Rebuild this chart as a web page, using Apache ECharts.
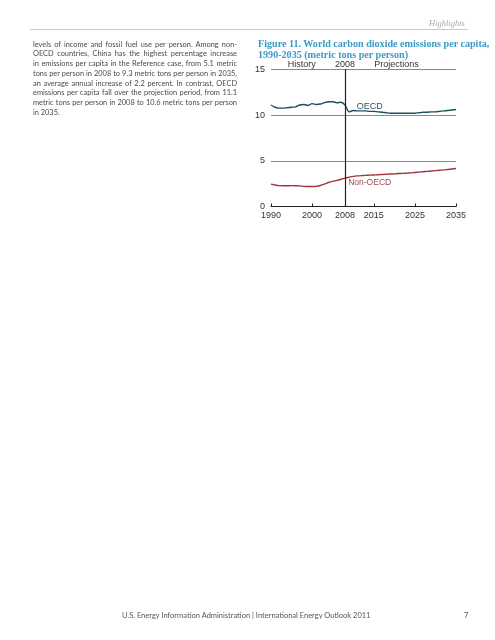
<!DOCTYPE html>
<html><head><meta charset="utf-8">
<script src="https://cdn.jsdelivr.net/npm/echarts@6/dist/echarts.min.js"></script>
<style>
html,body{margin:0;padding:0;background:#fff;}
#page{position:relative;width:495px;height:640px;overflow:hidden;}
#chart{position:absolute;left:0;top:0;width:495px;height:640px;}
.t{position:absolute;white-space:nowrap;}
#para{position:absolute;left:33px;top:39.5px;width:204px;font-family:Lato,"Open Sans",sans-serif;font-size:7.4px;line-height:9.8px;color:#4a4a4a;}
#para div{text-align:justify;text-align-last:justify;height:9.8px;overflow:visible;}
#para div.last{text-align-last:left;}
#title{position:absolute;left:258px;top:38px;font-family:"Liberation Serif",serif;font-weight:bold;font-size:10.1px;line-height:11px;color:#3b9ac6;white-space:nowrap;}
</style></head>
<body><div id="page">
<div id="chart"></div>
<div class="t" style="left:30px;top:29px;width:438px;height:0;border-top:1px solid #c8c8c8;"></div>
<div class="t" style="left:429px;top:18px;font-family:'Liberation Serif',serif;font-style:italic;font-size:8.5px;color:#aaa;">Highlights</div>
<div id="para">
<div>levels of income and fossil fuel use per person. Among non-</div>
<div>OECD countries, China has the highest percentage increase</div>
<div>in emissions per capita in the Reference case, from 5.1 metric</div>
<div>tons per person in 2008 to 9.3 metric tons per person in 2035,</div>
<div>an average annual increase of 2.2 percent. In contrast, OECD</div>
<div>emissions per capita fall over the projection period, from 11.1</div>
<div>metric tons per person in 2008 to 10.6 metric tons per person</div>
<div class="last">in 2035.</div>
</div>
<div id="title">Figure 11. World carbon dioxide emissions per capita,<br>1990-2035 (metric tons per person)</div>
<div class="t" style="left:122px;top:611px;font-family:Lato,'Open Sans',sans-serif;font-size:7.5px;color:#555;">U.S. Energy Information Administration | International Energy Outlook 2011</div>
<div class="t" style="left:464px;top:611px;font-family:Lato,'Open Sans',sans-serif;font-size:7.5px;color:#555;">7</div>
</div>
<script>
const years = [];
for (let y = 1990; y <= 2035; y++) years.push(y);
const oecd = [11.1,10.85,10.75,10.75,10.8,10.85,10.9,11.1,11.15,11.05,11.25,11.15,11.2,11.35,11.45,11.45,11.35,11.4,11.1,
  10.35,10.5,10.45,10.45,10.45,10.4,10.4,10.35,10.3,10.25,10.2,10.2,10.2,10.2,10.2,10.2,10.2,10.25,10.3,10.3,10.35,10.35,10.4,10.45,10.5,10.55,10.6];
const nonOecd = [2.45,2.35,2.28,2.27,2.27,2.28,2.27,2.25,2.2,2.18,2.18,2.2,2.3,2.45,2.62,2.75,2.85,2.98,3.1,
  3.2,3.3,3.35,3.38,3.4,3.43,3.45,3.47,3.5,3.52,3.55,3.57,3.6,3.62,3.65,3.68,3.72,3.76,3.8,3.84,3.88,3.92,3.96,4.0,4.05,4.1,4.15];
const xTicks = [1990,2000,2008,2015,2025,2035];
const yTicks = [0,5,10,15];
const periodLabels = [["History",1997.5],["2008",2008],["Projections",2020.5]];
const seriesLabels = [["OECD",2014,10.9],["Non-OECD",2014,2.6]];

const chart = echarts.init(document.getElementById('chart'));
const font = '"Liberation Sans", Arial, sans-serif';
chart.setOption({
  animation:false,
  grid:{left:271,right:39,top:69.3,bottom:433.5},
  xAxis:{type:'value',min:1990,max:2035,
    axisLine:{lineStyle:{color:'#222',width:1}},
    axisTick:{inside:true,length:3,customValues:xTicks,lineStyle:{color:'#222'}},
    axisLabel:{customValues:xTicks,formatter:v=>String(v),fontFamily:font,fontSize:9,color:'#333',margin:5},
    splitLine:{show:false}},
  yAxis:{type:'value',min:0,max:15,interval:5,
    axisLine:{show:false},axisTick:{show:false},
    axisLabel:{fontFamily:font,fontSize:9,color:'#333',margin:6,formatter:v=>yTicks.includes(v)?String(v):''},
    splitLine:{lineStyle:{color:'#8a8a8a',width:1}}},
  series:[
    {type:'line',data:years.map((y,i)=>[y,oecd[i]]),showSymbol:false,smooth:0.3,
     lineStyle:{color:'#1f4e5f',width:1.4},
     markLine:{silent:true,symbol:'none',label:{show:false},lineStyle:{color:'#222',width:1.2,type:'solid'},data:[{xAxis:2008}]},
     markPoint:{symbolSize:0,data:[{coord:[seriesLabels[0][1],seriesLabels[0][2]],label:{show:true,formatter:seriesLabels[0][0],fontFamily:font,fontSize:9,color:'#2a5565'}}]}},
    {type:'line',data:years.map((y,i)=>[y,nonOecd[i]]),showSymbol:false,smooth:0.3,
     lineStyle:{color:'#a3303d',width:1.4},
     markPoint:{symbolSize:0,data:[{coord:[seriesLabels[1][1],seriesLabels[1][2]],label:{show:true,formatter:seriesLabels[1][0],fontFamily:font,fontSize:8.5,color:'#a04a55'}}]}}
  ]
});
const g = periodLabels.map(([txt,x])=>{
  const p = chart.convertToPixel({gridIndex:0},[x,15]);
  return {type:'text',x:p[0],y:p[1]-5,style:{text:txt,fontFamily:font,fontSize:9,fill:'#333',align:'center',verticalAlign:'middle'}};
});
chart.setOption({graphic:g});
</script>
</body></html>
